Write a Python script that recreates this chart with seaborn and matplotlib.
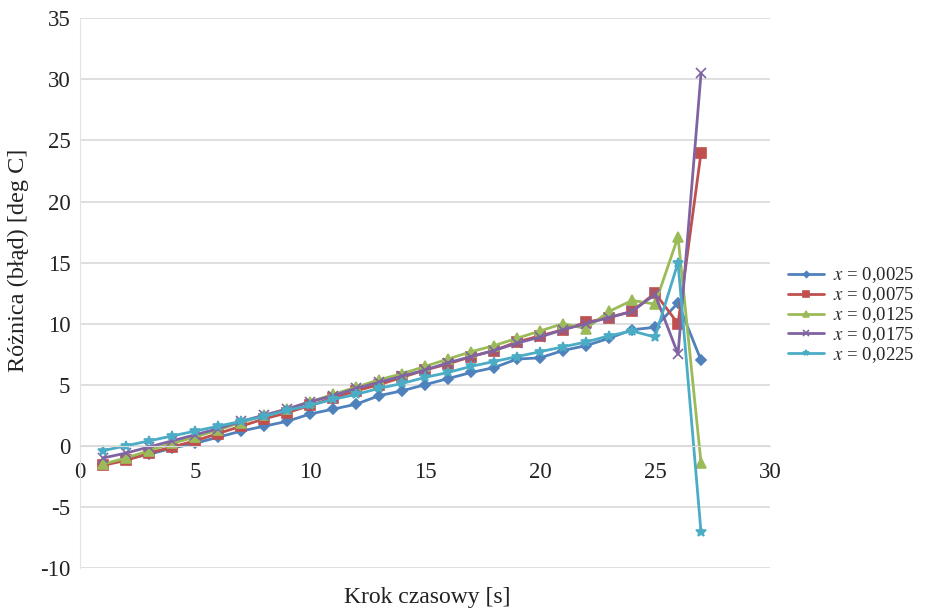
import numpy as np
import pandas as pd
import matplotlib
matplotlib.use('Agg')
import matplotlib.pyplot as plt
import seaborn as sns

steps = list(range(1, 28))

s_0025 = [-1.5, -1.1, -0.7, -0.2, 0.2, 0.7, 1.2, 1.6, 2.0, 2.6, 3.0, 3.4, 4.1, 4.5,
          5.0, 5.5, 6.0, 6.4, 7.1, 7.2, 7.8, 8.2, 8.8, 9.5, 9.7, 11.7, 7.0]
s_0075 = [-1.6, -1.2, -0.6, -0.1, 0.4, 1.0, 1.6, 2.2, 2.7, 3.3, 3.9, 4.5, 5.0, 5.6,
          6.2, 6.7, 7.3, 7.8, 8.5, 9.0, 9.5, 10.1, 10.5, 11.0, 12.5, 10.0, 24.0]
s_0125 = [-1.5, -1.0, -0.4, 0.2, 0.7, 1.3, 1.9, 2.5, 3.0, 3.6, 4.2, 4.8, 5.4, 5.9,
          6.5, 7.1, 7.7, 8.2, 8.8, 9.4, 10.0, 9.6, 11.0, 11.9, 11.6, 17.1, -1.4]
s_0175 = [-1.0, -0.6, -0.1, 0.4, 0.9, 1.4, 2.0, 2.5, 3.0, 3.6, 4.1, 4.7, 5.2, 5.7,
          6.2, 6.8, 7.3, 7.8, 8.4, 8.9, 9.5, 10.0, 10.5, 11.0, 12.4, 7.5, 30.5]
s_0225 = [-0.4, 0.0, 0.4, 0.8, 1.2, 1.6, 2.0, 2.4, 2.9, 3.3, 3.8, 4.2, 4.7, 5.1,
          5.6, 6.0, 6.5, 6.9, 7.3, 7.7, 8.1, 8.5, 9.0, 9.4, 8.9, 15.0, -7.1]

labels = ['$x$ = 0,0025', '$x$ = 0,0075', '$x$ = 0,0125', '$x$ = 0,0175', '$x$ = 0,0225']
series = [s_0025, s_0075, s_0125, s_0175, s_0225]

df = pd.DataFrame({
    'krok': steps * len(series),
    'roznica': np.concatenate(series),
    'seria': np.repeat(labels, len(steps)),
})

colors = ['#4F81BD', '#C0504D', '#9BBB59', '#8064A2', '#4BACC6']
markers = ['D', 's', '^', 'x', '*']
msizes = [5, 7, 7, 7, 7]

sns.set_style('white')
plt.rcParams['font.family'] = ['Liberation Serif', 'DejaVu Serif']
plt.rcParams['mathtext.fontset'] = 'stix'
plt.rcParams['axes.unicode_minus'] = False

fig = plt.figure(figsize=(9.3, 6.1), dpi=100)
ax = fig.add_axes([0.086, 0.069, 0.742, 0.901])

for lab, c, m, ms in zip(labels, colors, markers, msizes):
    sub = df[df['seria'] == lab]
    sns.lineplot(data=sub, x='krok', y='roznica', color=c, marker=m, markersize=ms,
                 markeredgecolor=c, markeredgewidth=1.2, linewidth=2, label=lab, ax=ax)

ax.set_xlim(0, 30)
ax.set_ylim(-10, 35)
ax.set_xticks(range(0, 31, 5))
ax.set_yticks(range(-10, 36, 5))
ax.yaxis.grid(True, color='#d9d9d9', linewidth=1.2)
ax.set_axisbelow(True)

for side in ['right', 'top']:
    ax.spines[side].set_visible(False)
ax.spines['left'].set_color('#e3e3e3')
ax.spines['bottom'].set_position(('data', 0))
ax.spines['bottom'].set_color('#d9d9d9')
ax.tick_params(axis='both', length=0, labelsize=16.5, colors='#222222')
ax.tick_params(axis='y', pad=7)
ax.tick_params(axis='x', pad=12)

ax.set_xlabel('')
ax.set_ylabel('Różnica (błąd) [deg C]', fontsize=17.5, color='#222222')
ax.yaxis.set_label_coords(-0.074, 0.56)
fig.text(0.459, 0.012, 'Krok czasowy [s]', fontsize=17, ha='center', color='#222222')

leg = ax.legend(loc='center left', bbox_to_anchor=(1.01, 0.46), frameon=False,
                fontsize=13.5, handlelength=1.9, handletextpad=0.5, borderaxespad=0.2,
                markerscale=0.6, labelspacing=0.0)

fig.savefig('out.png', dpi=100)
